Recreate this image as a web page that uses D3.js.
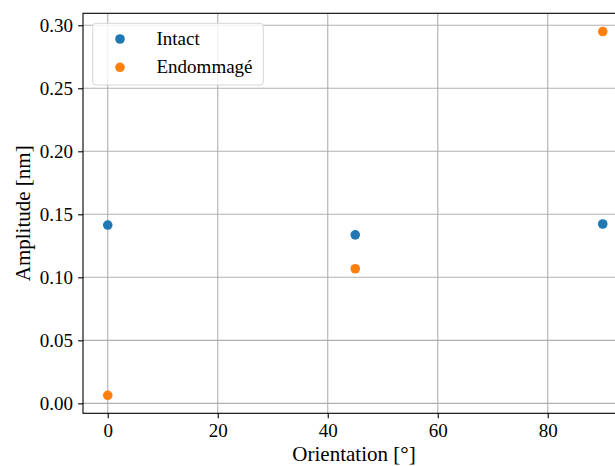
<!DOCTYPE html>
<html><head><meta charset="utf-8">
<script src="https://cdn.jsdelivr.net/npm/d3@7"></script>
<style>body{margin:0;background:#fff}svg{display:block}text{font-family:"Liberation Serif","Times New Roman",serif;fill:#000}</style>
</head><body><svg id="c" width="615" height="466"></svg>
<script>
const orientations = [0, 45, 90];
const intact = [0.1415, 0.1337, 0.1423];
const endommage = [0.0064, 0.1068, 0.2950];
const seriesNames = ["Intact", "Endommagé"];
const colors = ["#1f77b4", "#ff7f0e"];
const xTicks = [0, 20, 40, 60, 80];
const yTicks = [0.00, 0.05, 0.10, 0.15, 0.20, 0.25, 0.30];

const svg = d3.select("#c");
const L = 83, T = 13.3, B = 413.3, R = 627.5;
const x = d3.scaleLinear().domain([-4.5, 94.5]).range([L, R]);
const y = d3.scaleLinear().domain([-0.0079, 0.3095]).range([B, T]);

// grid
const g = svg.append("g");
g.selectAll(".gx").data(xTicks).join("line")
  .attr("x1", d => x(d)).attr("x2", d => x(d)).attr("y1", T).attr("y2", B)
  .attr("stroke", "#b0b0b0").attr("stroke-width", 1.1);
g.selectAll(".gy").data(yTicks).join("line")
  .attr("x1", L).attr("x2", R).attr("y1", d => y(d)).attr("y2", d => y(d))
  .attr("stroke", "#b0b0b0").attr("stroke-width", 1.1);

// axes
const xAxis = d3.axisBottom(x).tickValues(xTicks).tickFormat(d3.format("d")).tickSize(4.9).tickPadding(5);
const yAxis = d3.axisLeft(y).tickValues(yTicks).tickFormat(d3.format(".2f")).tickSize(4.9).tickPadding(5);
const ax = svg.append("g").attr("transform", `translate(0,${B})`).call(xAxis);
const ay = svg.append("g").attr("transform", `translate(${L},0)`).call(yAxis);
[ax, ay].forEach(a => {
  a.attr("font-family", "Liberation Serif").attr("font-size", 19);
  a.select(".domain").remove();
  a.selectAll("line").attr("stroke", "#000").attr("stroke-width", 1.1);
  a.selectAll("text").attr("font-family", "Liberation Serif").attr("font-size", 19)
    .style("font-family", "Liberation Serif").attr("fill", "#000");
});
// spines
svg.append("rect").attr("x", L).attr("y", T).attr("width", R - L).attr("height", B - T)
  .attr("fill", "none").attr("stroke", "#000").attr("stroke-width", 1.1);

// points
const series = [intact, endommage];
series.forEach((vals, i) => {
  svg.append("g").selectAll("circle").data(vals).join("circle")
    .attr("cx", (d, j) => x(orientations[j])).attr("cy", d => y(d))
    .attr("r", 4.8).attr("fill", colors[i]);
});

// labels
svg.append("text").attr("x", 354).attr("y", 461).attr("text-anchor", "middle")
  .style("font-size", "21px").text("Orientation [°]");
svg.append("text").attr("transform", `translate(30,${(T + B) / 2}) rotate(-90)`).attr("text-anchor", "middle")
  .style("font-size", "21px").text("Amplitude [nm]");

// legend
const lg = svg.append("g");
lg.append("rect").attr("x", 92.7).attr("y", 23.3).attr("width", 170.6).attr("height", 61.7).attr("rx", 3)
  .attr("fill", "#fff").attr("fill-opacity", 0.8).attr("stroke", "#d6d6d6").attr("stroke-width", 1);
seriesNames.forEach((n, i) => {
  const cy = 39 + i * 28.3;
  lg.append("circle").attr("cx", 120).attr("cy", cy).attr("r", 4.8).attr("fill", colors[i]);
  lg.append("text").attr("x", 156.5).attr("y", cy + 6).style("font-size", "19px").text(n);
});
</script></body></html>
